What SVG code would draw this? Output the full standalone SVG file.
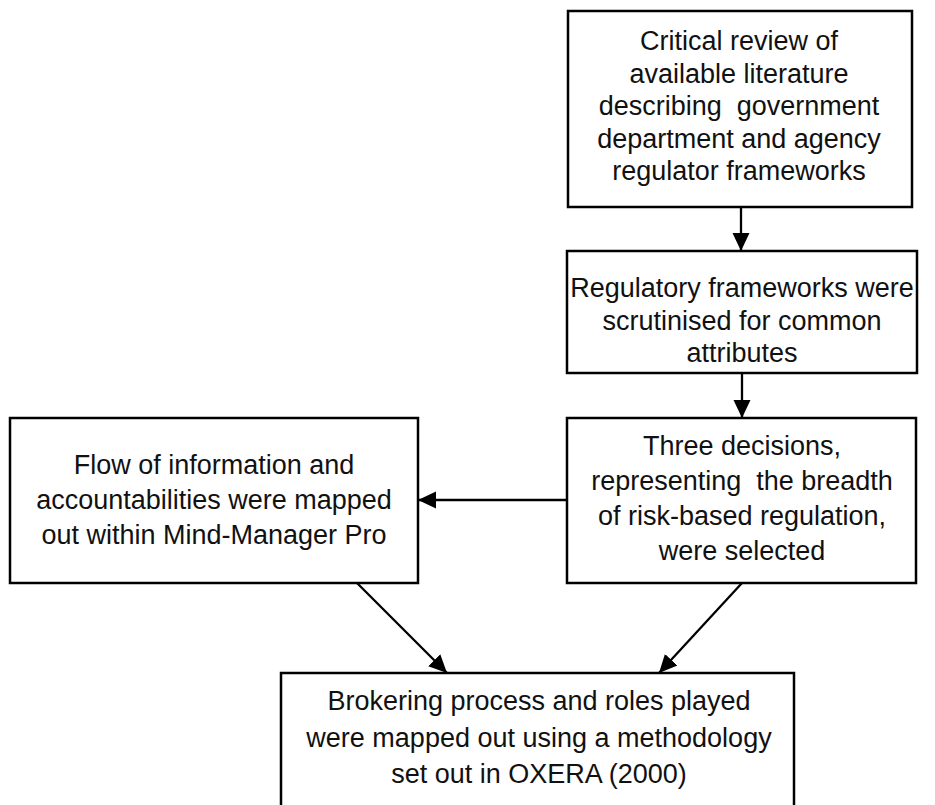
<svg xmlns="http://www.w3.org/2000/svg" width="935" height="805" viewBox="0 0 935 805">
  <style>
    .box { fill: #ffffff; stroke: #000000; stroke-width: 2.5; }
    .lbl { font-family: "Liberation Sans", Arial, sans-serif; font-size: 27px; fill: #111111; text-anchor: middle; white-space: pre; }
    .conn { fill: none; stroke: #000000; stroke-width: 2.3; }
  </style>
  <defs>
    <marker id="arrow" markerUnits="userSpaceOnUse" markerWidth="20" markerHeight="20" viewBox="0 0 20 20" refX="18" refY="10" orient="auto">
      <path d="M0,1.5 L18,10 L0,18.5 Z" fill="#000000"/>
    </marker>
  </defs>
  <rect width="935" height="805" fill="#ffffff"/>

  <!-- step 1: literature review -->
  <g id="node-review">
    <rect class="box" x="568" y="11" width="344" height="196"/>
    <text class="lbl" x="739" y="50">Critical review of</text>
    <text class="lbl" x="739" y="83">available literature</text>
    <text class="lbl" x="739" y="115" xml:space="preserve">describing  government</text>
    <text class="lbl" x="739" y="148">department and agency</text>
    <text class="lbl" x="739" y="180">regulator frameworks</text>
  </g>

  <!-- step 2: scrutiny of frameworks -->
  <g id="node-scrutiny">
    <rect class="box" x="567" y="251" width="350" height="122"/>
    <text class="lbl" x="742" y="297">Regulatory frameworks were</text>
    <text class="lbl" x="742" y="330">scrutinised for common</text>
    <text class="lbl" x="742" y="362">attributes</text>
  </g>

  <!-- step 3: decision selection -->
  <g id="node-decisions">
    <rect class="box" x="567" y="418" width="349" height="165"/>
    <text class="lbl" x="742" y="455">Three decisions,</text>
    <text class="lbl" x="742" y="490" xml:space="preserve">representing  the breadth</text>
    <text class="lbl" x="742" y="525">of risk-based regulation,</text>
    <text class="lbl" x="742" y="560">were selected</text>
  </g>

  <!-- step 4: information flow mapping -->
  <g id="node-mapping">
    <rect class="box" x="10" y="418" width="408" height="165"/>
    <text class="lbl" x="214" y="474">Flow of information and</text>
    <text class="lbl" x="214" y="509">accountabilities were mapped</text>
    <text class="lbl" x="214" y="544">out within Mind-Manager Pro</text>
  </g>

  <!-- step 5: brokering process -->
  <g id="node-brokering">
    <rect class="box" x="281" y="673" width="513" height="150"/>
    <text class="lbl" x="539" y="710">Brokering process and roles played</text>
    <text class="lbl" x="539" y="747">were mapped out using a methodology</text>
    <text class="lbl" x="539" y="783">set out in OXERA (2000)</text>
  </g>

  <g id="connectors">
    <line class="conn" x1="741" y1="207" x2="741" y2="251" marker-end="url(#arrow)"/>
    <line class="conn" x1="742" y1="373" x2="742" y2="418" marker-end="url(#arrow)"/>
    <line class="conn" x1="567" y1="500" x2="418" y2="500" marker-end="url(#arrow)"/>
    <line class="conn" x1="357" y1="583" x2="447" y2="673" marker-end="url(#arrow)"/>
    <line class="conn" x1="742" y1="583" x2="659" y2="673" marker-end="url(#arrow)"/>
  </g>
</svg>
